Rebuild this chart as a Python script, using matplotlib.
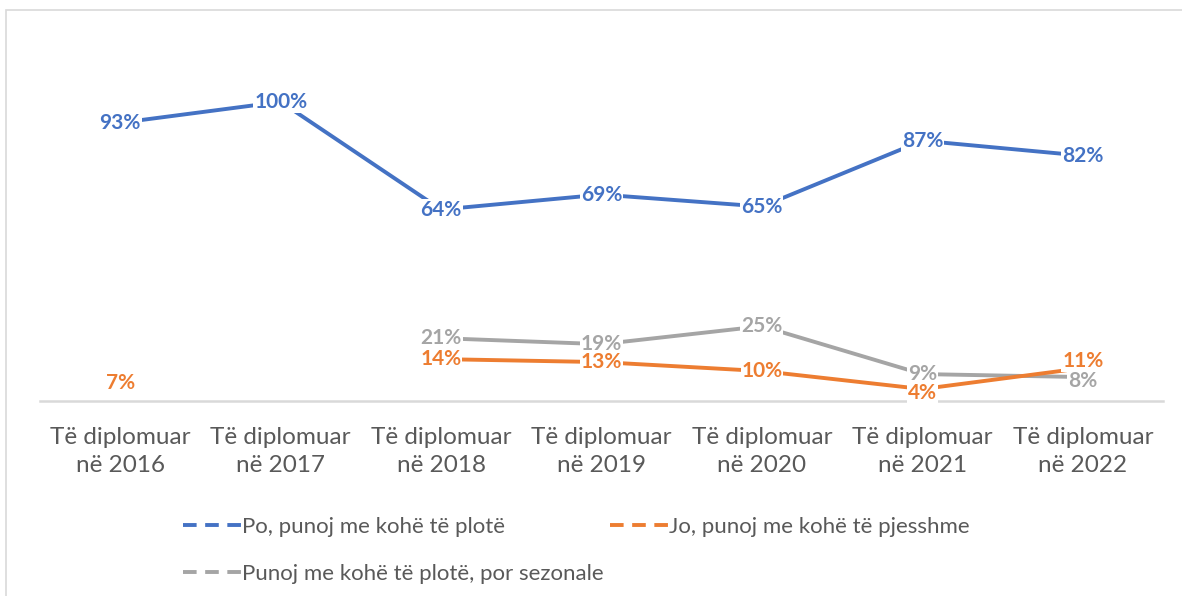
import matplotlib.pyplot as plt
from matplotlib.lines import Line2D
from matplotlib.patches import Rectangle
import numpy as np

categories = ["Të diplomuar\nnë 2016", "Të diplomuar\nnë 2017", "Të diplomuar\nnë 2018",
              "Të diplomuar\nnë 2019", "Të diplomuar\nnë 2020", "Të diplomuar\nnë 2021",
              "Të diplomuar\nnë 2022"]
full_time = [93, 100, 64, 69, 65, 87, 82]
part_time = [7, None, 14, 13, 10, 4, 11]
seasonal = [None, None, 21, 19, 25, 9, 8]

series_names = ["Po, punoj me kohë të plotë", "Jo, punoj me kohë të pjesshme",
                "Punoj me kohë të plotë, por sezonale"]
colors = ["#4472C4", "#ED7D31", "#A5A5A5"]

plt.rcParams['font.family'] = ['Lato', 'DejaVu Sans']

fig = plt.figure(figsize=(11.82, 5.96), dpi=100)
ax = fig.add_axes([40 / 1182, 1 - 401 / 596, 1123 / 1182, 359 / 596])

# light frame around the chart area
fig.patches.append(Rectangle((6 / 1182, -0.1), 1.2, 1 - 10 / 596 + 0.1, transform=fig.transFigure,
                             fill=False, edgecolor="#D9D9D9", linewidth=1.2))

x = np.arange(len(categories))

def to_arr(vals):
    return np.array([np.nan if v is None else v for v in vals], dtype=float)

# small nudges for labels that would collide
nudge = {(1, 6): 5, (2, 6): -3, (1, 5): -3, (1, 0): -2}

# draw in order so blue stays on top
for k, vals, z in [(2, seasonal, 2), (1, part_time, 3), (0, full_time, 4)]:
    color = colors[k]
    y = to_arr(vals)
    ax.plot(x, y, color=color, linewidth=2.8, solid_capstyle="butt", zorder=z)
    for xi, yi in zip(x, y):
        if np.isnan(yi):
            continue
        dy = nudge.get((k, xi), 0)
        ax.annotate(f"{int(yi)}%", (xi, yi), xytext=(0, dy), textcoords="offset points",
                    ha="center", va="center", color=color, fontsize=15, fontweight="bold",
                    bbox=dict(facecolor="white", edgecolor="none", pad=0.6), zorder=z + 5)

ax.set_xlim(-0.5, len(categories) - 0.5)
ax.set_ylim(0, 120)
ax.set_xticks(x)
ax.set_xticklabels(categories, fontsize=17.5, color="#595959", linespacing=1.4)
ax.tick_params(axis="x", length=0, pad=19)
ax.set_yticks([])
for s in ["top", "right", "left"]:
    ax.spines[s].set_visible(False)
ax.spines["bottom"].set_color("#D9D9D9")
ax.spines["bottom"].set_linewidth(1.8)
ax.spines["bottom"].set_zorder(1)

# legend: matplotlib fills columns first, so order blue, gray, orange
order = [0, 2, 1]
handles = [Line2D([], [], color=colors[i], linewidth=2.8, linestyle=(0, (3.5, 2.2))) for i in order]
fig.legend(handles, [series_names[i] for i in order], loc="upper left",
           bbox_to_anchor=(163 / 1182, 1 - 497 / 596),
           ncol=2, frameon=False, fontsize=16, labelcolor="#595959", handlelength=2.6,
           handletextpad=0.05, columnspacing=0.3, labelspacing=1.2)

fig.savefig("out.png", dpi=100)
